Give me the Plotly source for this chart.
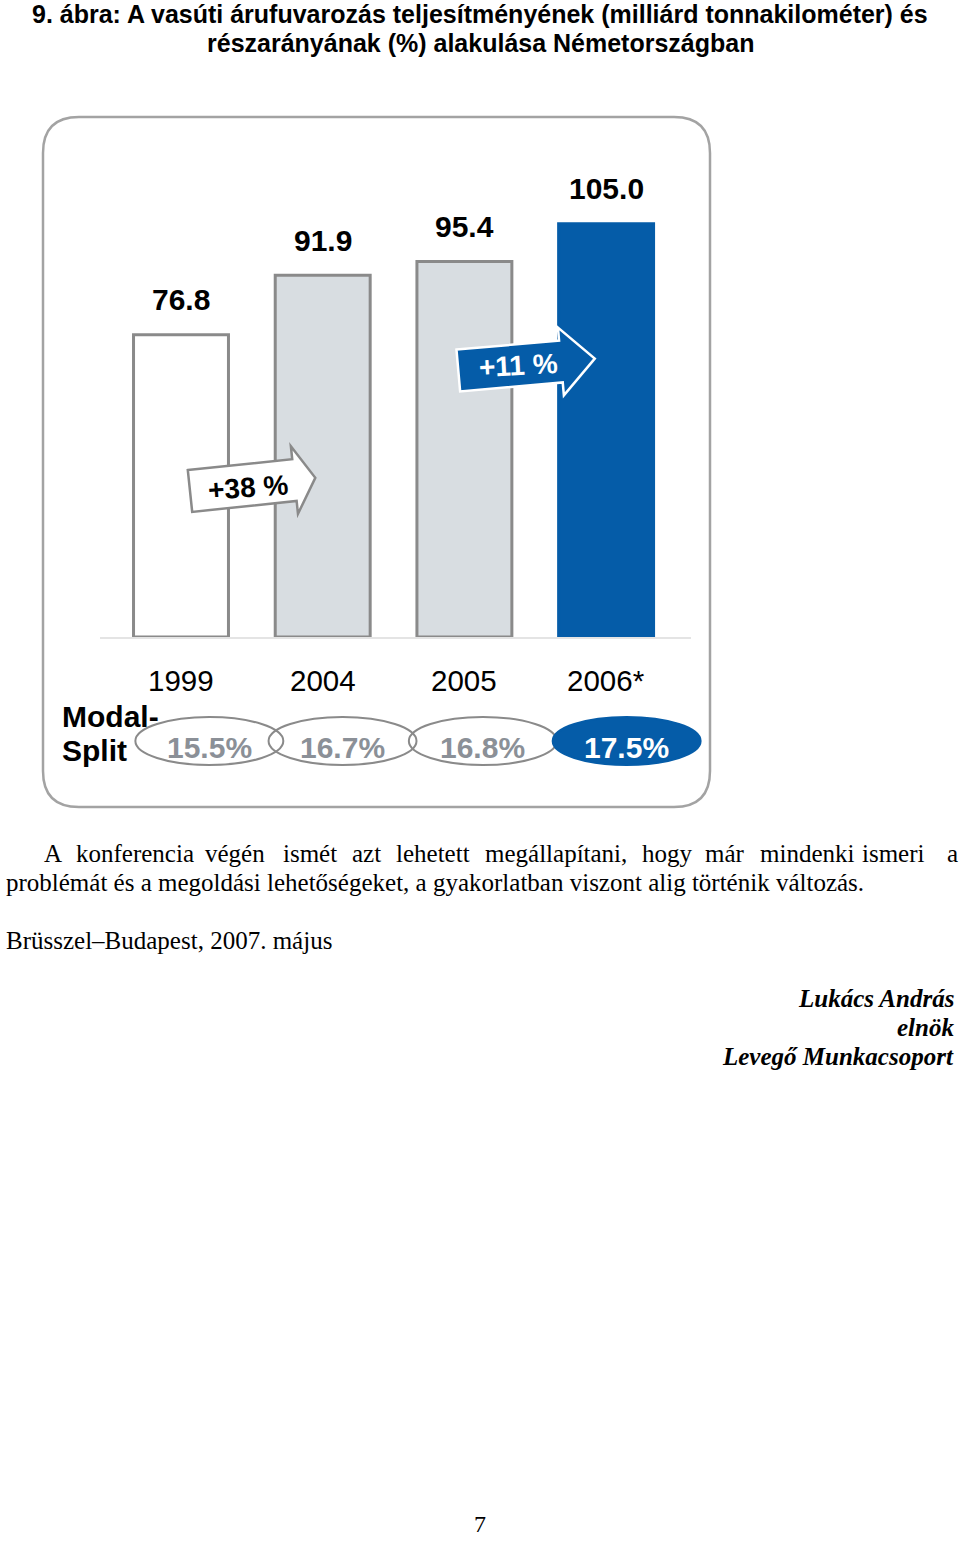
import math
import plotly.graph_objects as go

# ---------------- data ----------------
years = ["1999", "2004", "2005", "2006*"]
tkm_values = [76.8, 91.9, 95.4, 105.0]          # milliárd tonnakilométer
value_labels = ["76.8", "91.9", "95.4", "105.0"]
modal_split = ["15.5%", "16.7%", "16.8%", "17.5%"]
growth_labels = ["+38 %", "+11 %"]

title_lines = [
    "9. ábra: A vasúti árufuvarozás teljesítményének (milliárd tonnakilométer) és",
    "részarányának (%) alakulása Németországban",
]
para_line1 = "A konferencia végén ismét azt lehetett megállapítani, hogy már mindenki ismeri a"
para_line2 = "problémát és a megoldási lehetőségeket, a gyakorlatban viszont alig történik változás."
place_date = "Brüsszel–Budapest, 2007. május"
signature = ["Lukács András", "elnök", "Levegő Munkacsoport"]
page_number = "7"

# ---------------- styles ----------------
W, H = 960, 1541
BLUE = "#055ca8"
GREY_FILL = "#d8dde1"
OUTLINE = "#8a8a8a"
PCT_GREY = "#8b9097"
SANS = "Liberation Sans, Arial, sans-serif"
SERIF = "Liberation Serif, Times New Roman, serif"


def X(px):
    return px / W


def Y(py):
    return 1 - py / H


bar_fill = ["white", GREY_FILL, GREY_FILL, BLUE]
bar_line = [OUTLINE, OUTLINE, OUTLINE, BLUE]
xpos = list(range(len(years)))

fig = go.Figure()
fig.add_trace(go.Bar(
    x=xpos, y=tkm_values, width=0.67,
    marker=dict(color=bar_fill, line=dict(color=bar_line, width=3)),
    hoverinfo="skip",
))

# axes: first category centre at 181 px, 141.7 px per category, baseline at 637 px
c0_px, step_px = 181.0, 141.7
dom_l_px, dom_r_px = 50.0, 730.0
y_bottom_px, y_top_px = 637, 160
fig.update_xaxes(domain=[X(dom_l_px), X(dom_r_px)],
                 range=[(dom_l_px - c0_px) / step_px, (dom_r_px - c0_px) / step_px],
                 visible=False, fixedrange=True)
fig.update_yaxes(domain=[Y(y_bottom_px), Y(y_top_px)], range=[0, 121.2],
                 visible=False, fixedrange=True)

shapes = []
ann = []


def rounded_rect(x0, y0, x1, y1, r):
    return (f"M {X(x0 + r)},{Y(y0)} L {X(x1 - r)},{Y(y0)} "
            f"Q {X(x1)},{Y(y0)} {X(x1)},{Y(y0 + r)} "
            f"L {X(x1)},{Y(y1 - r)} Q {X(x1)},{Y(y1)} {X(x1 - r)},{Y(y1)} "
            f"L {X(x0 + r)},{Y(y1)} Q {X(x0)},{Y(y1)} {X(x0)},{Y(y1 - r)} "
            f"L {X(x0)},{Y(y0 + r)} Q {X(x0)},{Y(y0)} {X(x0 + r)},{Y(y0)} Z")


shapes.append(dict(type="path", path=rounded_rect(43, 117, 710, 807, 36),
                   xref="paper", yref="paper", line=dict(color="#a3a3a3", width=2.5),
                   layer="below"))

# baseline
shapes.append(dict(type="line", xref="paper", yref="paper",
                   x0=X(100), x1=X(691), y0=Y(638), y1=Y(638),
                   line=dict(color="#c9c9c9", width=1), layer="below"))


def arrow_path(cx, cy, theta_deg, head_base, tip, hh, head_h):
    t = math.radians(theta_deg)
    d = (math.cos(t), -math.sin(t))
    n = (math.sin(t), math.cos(t))
    local = [(0, -hh), (head_base, -hh), (head_base, -head_h), (tip, 0),
             (head_base, head_h), (head_base, hh), (0, hh)]
    pts = [(cx + u * d[0] + v * n[0], cy + u * d[1] + v * n[1]) for u, v in local]
    return "M " + " L ".join(f"{X(px)},{Y(py)}" for px, py in pts) + " Z"


shapes.append(dict(type="path", xref="paper", yref="paper",
                   path=arrow_path(190, 491, 6, 105, 126, 21, 34),
                   fillcolor="white", line=dict(color=OUTLINE, width=2.5), layer="above"))
shapes.append(dict(type="path", xref="paper", yref="paper",
                   path=arrow_path(458.3, 370.5, 5, 103, 137, 21, 34),
                   fillcolor=BLUE, line=dict(color="white", width=2.5), layer="above"))

# modal split ellipses
ell_dx_units = [0.20, 0.14, 0.13, 0.145]
ell_half_w = 0.522
for i in xpos:
    cx = i + ell_dx_units[i]
    last = i == len(xpos) - 1
    shapes.append(dict(type="circle", xref="x", yref="paper",
                       x0=cx - ell_half_w, x1=cx + ell_half_w, y0=Y(765), y1=Y(717),
                       fillcolor=BLUE if last else "rgba(0,0,0,0)",
                       line=dict(color=BLUE if last else OUTLINE, width=2), layer="above"))
    ann.append(dict(x=cx, y=Y(747), xref="x", yref="paper", text=f"<b>{modal_split[i]}</b>",
                    showarrow=False, xanchor="center", yanchor="middle",
                    font=dict(family=SANS, size=30, color="white" if last else PCT_GREY)))

# value labels above bars
for i in xpos:
    ann.append(dict(x=i, y=tkm_values[i], xref="x", yref="y", text=f"<b>{value_labels[i]}</b>",
                    showarrow=False, xanchor="center", yanchor="middle", yshift=35,
                    font=dict(family=SANS, size=30, color="black")))

# year labels
for i in xpos:
    ann.append(dict(x=i, y=Y(680), xref="x", yref="paper", text=years[i],
                    showarrow=False, xanchor="center", yanchor="middle",
                    font=dict(family=SANS, size=29.5, color="black")))

# Modal-Split label
ann.append(dict(x=X(60), y=Y(716), xref="paper", yref="paper", text="<b>Modal-</b>",
                showarrow=False, xanchor="left", yanchor="middle",
                font=dict(family=SANS, size=30, color="black")))
ann.append(dict(x=X(60), y=Y(750), xref="paper", yref="paper", text="<b>Split</b>",
                showarrow=False, xanchor="left", yanchor="middle",
                font=dict(family=SANS, size=30, color="black")))

# growth labels
ann.append(dict(x=X(248), y=Y(487), xref="paper", yref="paper", text=f"<b>{growth_labels[0]}</b>",
                showarrow=False, xanchor="center", yanchor="middle", textangle=-4,
                font=dict(family=SANS, size=28, color="black")))
ann.append(dict(x=X(518), y=Y(366), xref="paper", yref="paper", text=f"<b>{growth_labels[1]}</b>",
                showarrow=False, xanchor="center", yanchor="middle", textangle=-3,
                font=dict(family=SANS, size=28, color="white")))

# title
for line, py in zip(title_lines, [14, 43]):
    ann.append(dict(x=X(480), y=Y(py), xref="paper", yref="paper", text=f"<b>{line}</b>",
                    showarrow=False, xanchor="center", yanchor="middle",
                    font=dict(family=SANS, size=25, color="black")))

# paragraph, line 1 justified word by word
word_x = [42, 74, 203, 281, 350, 394, 483, 640, 703, 758, 860, 945]
for w, px in zip(para_line1.split(" "), word_x):
    ann.append(dict(x=X(px), y=Y(853), xref="paper", yref="paper", text=w,
                    showarrow=False, xanchor="left", yanchor="middle",
                    font=dict(family=SERIF, size=25, color="black")))
ann.append(dict(x=X(4), y=Y(882), xref="paper", yref="paper", text=para_line2,
                showarrow=False, xanchor="left", yanchor="middle",
                font=dict(family=SERIF, size=25, color="black")))
ann.append(dict(x=X(4), y=Y(940), xref="paper", yref="paper", text=place_date,
                showarrow=False, xanchor="left", yanchor="middle",
                font=dict(family=SERIF, size=25, color="black")))
for line, py in zip(signature, [998, 1027, 1056]):
    ann.append(dict(x=X(956), y=Y(py), xref="paper", yref="paper", text=f"<b><i>{line}</i></b>",
                    showarrow=False, xanchor="right", yanchor="middle",
                    font=dict(family=SERIF, size=25, color="black")))
ann.append(dict(x=X(480), y=Y(1524), xref="paper", yref="paper", text=page_number,
                showarrow=False, xanchor="center", yanchor="middle",
                font=dict(family=SERIF, size=24, color="black")))

fig.update_layout(
    width=W, height=H, margin=dict(l=0, r=0, t=0, b=0),
    paper_bgcolor="white", plot_bgcolor="white",
    showlegend=False, shapes=shapes, annotations=ann,
)

fig.write_html("out.html", config={"displayModeBar": False},
               post_script="document.body.style.margin='0px';"
                           "document.body.style.overflow='hidden';")
